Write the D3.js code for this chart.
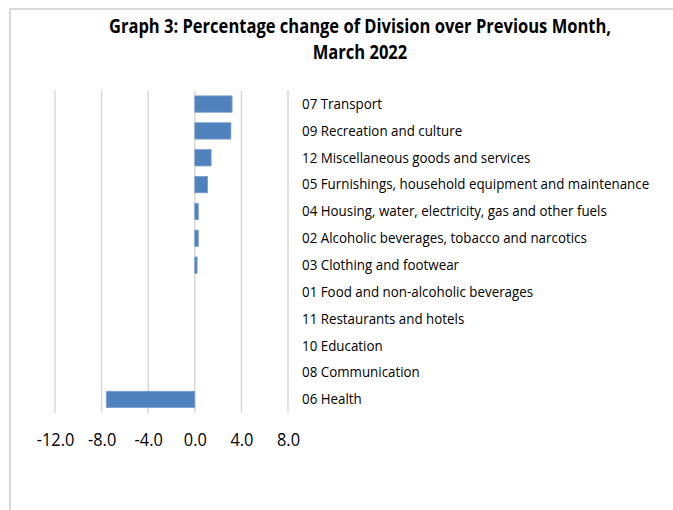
<!DOCTYPE html>
<html>
<head>
<meta charset="utf-8">
<script src="https://cdn.jsdelivr.net/npm/d3@7"></script>
<style>
  body { margin: 0; background: #fff; }
  svg text { font-family: "Open Sans", sans-serif; fill: #000; }
</style>
</head>
<body>
<div id="chart"></div>
<script>
// Divisions, top to bottom as they appear in the chart
const categories = [
  "07 Transport",
  "09 Recreation and culture",
  "12 Miscellaneous goods and services",
  "05 Furnishings, household equipment and maintenance",
  "04 Housing, water, electricity, gas and other fuels",
  "02 Alcoholic beverages, tobacco and narcotics",
  "03 Clothing and footwear",
  "01 Food and non-alcoholic beverages",
  "11 Restaurants and hotels",
  "10 Education",
  "08 Communication",
  "06 Health"
];
// percentage change over previous month
const values = [3.2, 3.1, 1.4, 1.1, 0.3, 0.3, 0.2, 0.0, 0.0, 0.0, 0.0, -7.6];
const tickValues = [-12, -8, -4, 0, 4, 8];
const titleLines = ["Graph 3: Percentage change of Division over Previous Month,", "March 2022"];

const width = 673;
const height = 510;

// the original font is narrow, so squeeze Open Sans a bit
function condense(sel, k) {
  sel.each(function () {
    const len = this.getComputedTextLength();
    d3.select(this)
      .attr("textLength", len * k)
      .attr("lengthAdjust", "spacingAndGlyphs");
  });
}

const svg = d3.select("#chart")
  .append("svg")
  .attr("width", width)
  .attr("height", height);

// chart frame (only top and left edges show)
svg.append("path")
  .attr("d", `M10,${height} L10,9 L${width},9`)
  .attr("fill", "none")
  .attr("stroke", "#d9d9d9")
  .attr("stroke-width", 2);

// title
const title = svg.selectAll(".title")
  .data(titleLines)
  .enter()
  .append("text")
  .attr("class", "title")
  .attr("x", 360)
  .attr("y", (d, i) => 33 + i * 26)
  .attr("text-anchor", "middle")
  .style("font-weight", "bold")
  .style("font-size", "19px")
  .text(d => d);
condense(title, 0.87);

const plotTop = 90.5;
const plotBottom = 413;

const xScale = d3.scaleLinear()
  .domain([-12, 8])
  .range([55, 288]);

const yScale = d3.scaleBand()
  .domain(categories)
  .range([plotTop, plotBottom])
  .paddingInner(0.39)
  .paddingOuter(0.2);

// vertical gridlines
svg.append("g")
  .selectAll("line")
  .data(tickValues)
  .enter()
  .append("line")
  .attr("x1", d => xScale(d))
  .attr("x2", d => xScale(d))
  .attr("y1", plotTop)
  .attr("y2", plotBottom)
  .attr("stroke", "#d9d9d9")
  .attr("stroke-width", 1.5);

// x-axis tick labels
const xAxis = d3.axisBottom(xScale)
  .tickValues(tickValues)
  .tickFormat(d => d.toFixed(1))
  .tickSize(0)
  .tickPadding(20);

const xg = svg.append("g")
  .attr("transform", `translate(0, ${plotBottom})`)
  .call(xAxis);
xg.select(".domain").remove();
xg.selectAll("text")
  .style("font-size", "19px")
  .style("font-family", "\"Open Sans\", sans-serif")
  .attr("fill", "#000");
condense(xg.selectAll("text"), 0.86);

// bars
svg.selectAll(".bar")
  .data(values)
  .enter()
  .append("rect")
  .attr("class", "bar")
  .attr("x", d => xScale(Math.min(0, d)))
  .attr("y", (d, i) => yScale(categories[i]))
  .attr("width", d => Math.abs(xScale(d) - xScale(0)))
  .attr("height", yScale.bandwidth())
  .attr("fill", "#4f81bd")
  .attr("stroke", d => d === 0 ? "none" : "#7da1cd")
  .attr("stroke-width", 0.8);

// category labels on the right
const yAxis = d3.axisRight(yScale)
  .tickSize(0)
  .tickPadding(8);

const yg = svg.append("g")
  .attr("transform", "translate(294, 0)")
  .call(yAxis);
yg.select(".domain").remove();
yg.selectAll("text")
  .style("font-size", "15px")
  .style("font-family", "\"Open Sans\", sans-serif")
  .attr("fill", "#000");
condense(yg.selectAll("text"), 0.89);
</script>
</body>
</html>
